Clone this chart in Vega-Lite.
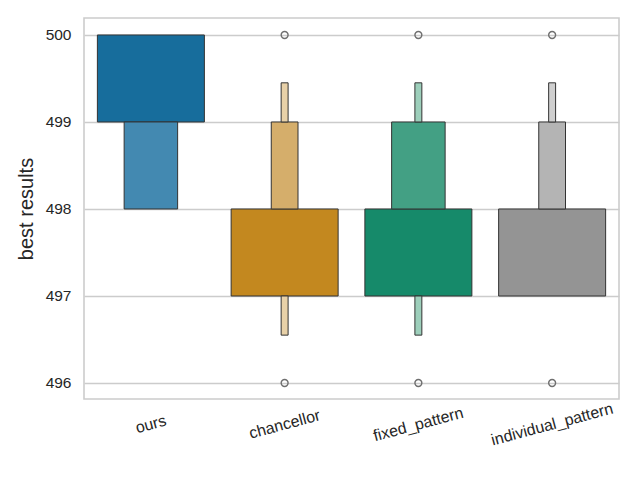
{
  "$schema": "https://vega.github.io/schema/vega-lite/v6.json",
  "width": 535,
  "height": 381,
  "autosize": {"type": "none"},
  "padding": {"left": 84, "top": 18, "right": 21, "bottom": 81},
  "background": "white",
  "config": {
    "font": "Liberation Sans",
    "view": {"stroke": "#cccccc", "strokeWidth": 1.6},
    "axis": {"labelColor": "#262626", "titleColor": "#262626", "labelFontSize": 15, "domain": false, "ticks": false, "tickSize": 0}
  },
  "datasets": {
    "boxes": [
      {"method": "ours", "level": 1, "lo": 499, "hi": 500},
      {"method": "ours", "level": 2, "lo": 498, "hi": 499},
      {"method": "chancellor", "level": 1, "lo": 497, "hi": 498},
      {"method": "chancellor", "level": 3, "lo": 498, "hi": 499},
      {"method": "chancellor", "level": 5, "lo": 499, "hi": 499.45},
      {"method": "chancellor", "level": 5, "lo": 496.55, "hi": 497},
      {"method": "fixed_pattern", "level": 1, "lo": 497, "hi": 498},
      {"method": "fixed_pattern", "level": 2, "lo": 498, "hi": 499},
      {"method": "fixed_pattern", "level": 5, "lo": 499, "hi": 499.45},
      {"method": "fixed_pattern", "level": 5, "lo": 496.55, "hi": 497},
      {"method": "individual_pattern", "level": 1, "lo": 497, "hi": 498},
      {"method": "individual_pattern", "level": 3, "lo": 498, "hi": 499},
      {"method": "individual_pattern", "level": 5, "lo": 499, "hi": 499.45}
    ],
    "outliers": [
      {"method": "chancellor", "value": 500},
      {"method": "chancellor", "value": 496},
      {"method": "fixed_pattern", "value": 500},
      {"method": "fixed_pattern", "value": 496},
      {"method": "individual_pattern", "value": 500},
      {"method": "individual_pattern", "value": 496}
    ]
  },
  "encoding": {
    "x": {
      "field": "method", "type": "nominal",
      "scale": {"domain": ["ours", "chancellor", "fixed_pattern", "individual_pattern"], "paddingInner": 0, "paddingOuter": 0},
      "axis": {
        "title": null, "labelAngle": -15, "labelAlign": "center", "labelBaseline": "middle", "labelPadding": 25, "labelFontSize": 16,
        "encode": {"labels": {"update": {"dy": {"signal": "0.95*length(datum.label)"}}}}
      }
    }
  },
  "layer": [
    {
      "data": {"name": "boxes"},
      "transform": [{"filter": "datum.level == 1"}, {"calculate": "datum.method + '-' + datum.level", "as": "shade"}],
      "mark": {"type": "bar", "width": {"band": 0.8}, "stroke": "#333333", "strokeWidth": 1, "opacity": 1},
      "encoding": {
        "y": {
          "field": "lo", "type": "quantitative",
          "scale": {"domain": [495.816, 500.195], "nice": false, "zero": false},
          "axis": {"title": "best results", "titleFontSize": 20, "titleFontWeight": "normal", "titlePadding": 9, "values": [496, 497, 498, 499, 500], "format": "d", "labelFontSize": 15.5, "labelPadding": 13, "grid": true, "gridColor": "#cccccc", "gridWidth": 1.3}
        },
        "y2": {"field": "hi"},
        "color": {"field": "shade", "type": "nominal", "legend": null, "scale": {
          "domain": ["ours-1", "ours-2", "chancellor-1", "chancellor-3", "chancellor-5", "fixed_pattern-1", "fixed_pattern-2", "fixed_pattern-5", "individual_pattern-1", "individual_pattern-3", "individual_pattern-5"],
          "range": ["#176d9c", "#4389b1", "#c3881f", "#d5ae6b", "#e8d1a8", "#168a6a", "#43a084", "#9dcfbb", "#949494", "#b4b4b4", "#cfcfcf"]}}
      }
    },
    {
      "data": {"name": "boxes"},
      "transform": [{"filter": "datum.level == 2"}, {"calculate": "datum.method + '-' + datum.level", "as": "shade"}],
      "mark": {"type": "bar", "width": {"band": 0.4}, "stroke": "#333333", "strokeWidth": 1, "opacity": 1},
      "encoding": {
        "y": {"field": "lo", "type": "quantitative"},
        "y2": {"field": "hi"},
        "color": {"field": "shade", "type": "nominal", "legend": null}
      }
    },
    {
      "data": {"name": "boxes"},
      "transform": [{"filter": "datum.level == 3"}, {"calculate": "datum.method + '-' + datum.level", "as": "shade"}],
      "mark": {"type": "bar", "width": {"band": 0.2}, "stroke": "#333333", "strokeWidth": 1, "opacity": 1},
      "encoding": {
        "y": {"field": "lo", "type": "quantitative"},
        "y2": {"field": "hi"},
        "color": {"field": "shade", "type": "nominal", "legend": null}
      }
    },
    {
      "data": {"name": "boxes"},
      "transform": [{"filter": "datum.level == 5"}, {"calculate": "datum.method + '-' + datum.level", "as": "shade"}],
      "mark": {"type": "bar", "width": {"band": 0.052}, "stroke": "#333333", "strokeWidth": 1, "opacity": 1},
      "encoding": {
        "y": {"field": "lo", "type": "quantitative"},
        "y2": {"field": "hi"},
        "color": {"field": "shade", "type": "nominal", "legend": null}
      }
    },
    {
      "data": {"name": "outliers"},
      "mark": {"type": "point", "shape": "circle", "filled": false, "size": 48, "stroke": "#6f6f6f", "strokeWidth": 1.4, "opacity": 1},
      "encoding": {
        "y": {"field": "value", "type": "quantitative"}
      }
    }
  ]
}
